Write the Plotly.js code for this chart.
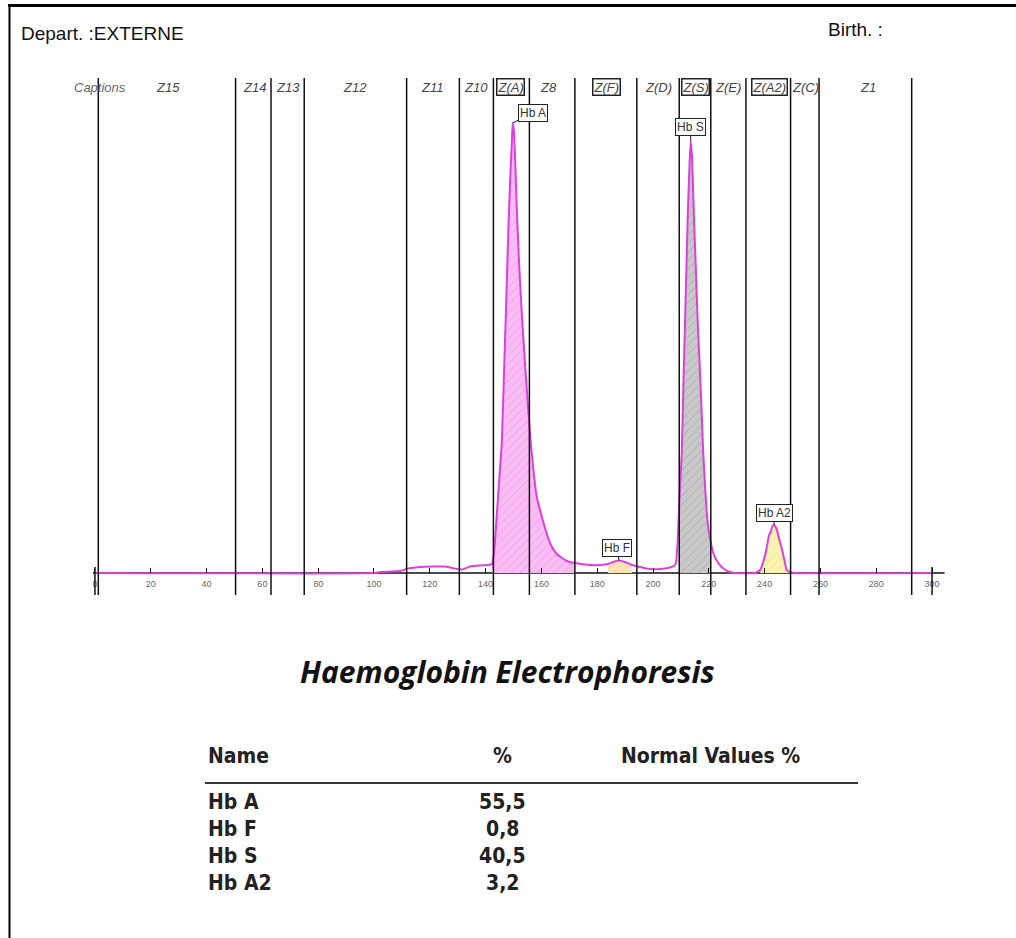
<!DOCTYPE html>
<html>
<head>
<meta charset="utf-8">
<script src="https://cdn.plot.ly/plotly-3.0.1.min.js"></script>
<style>
  html, body { margin: 0; padding: 0; background: #fff; }
  #chart { width: 1016px; height: 938px; }
</style>
</head>
<body>
<div id="chart"></div>
<script>
// ---------------- DATA ----------------
// migration position (x axis) and detector signal
const positions = [0, 100, 102.2, 109.3, 112.2, 116.5, 125.5, 129.0, 131.5, 134.4, 138.0, 140.9,
  142.3, 143.0, 143.7, 144.8, 145.8, 146.6, 147.3, 148.0, 148.4, 148.9, 149.4, 149.7, 150.2,
  151.2, 152.0, 152.9, 154.1, 155.3, 156.2, 157.4, 158.4, 159.5, 161.3, 163.1, 165.2, 167.4,
  169.2, 172.0, 177.4, 181.0, 183.9, 185.7, 187.8, 190.0, 192.5, 195.3, 198.9, 202.5, 205.4,
  207.5, 208.2, 208.8, 209.5, 210.3, 210.9, 211.5, 212.4, 213.1, 213.5, 214.0, 214.7, 215.4,
  216.0, 217.0, 218.0, 218.8, 219.5, 220.4, 221.6, 222.9, 224.6, 227.0, 229.4, 236.6, 238.4,
  239.6, 240.8, 241.6, 242.2, 242.8, 243.4, 244.0, 244.6, 245.3, 246.1, 247.0, 247.9, 249.1,
  250.9, 300];
const signal = [0, 0, 1, 2, 4.5, 6, 6.5, 4.5, 3.5, 6.5, 7.5, 8,
  9, 20, 45, 90, 130, 200, 263, 330, 363, 400, 430, 450, 440,
  363, 310, 263, 210, 163, 130, 96, 75, 63, 45, 30, 20, 15,
  12, 10, 8, 8, 9, 11, 12.5, 11, 8, 6, 4, 4, 5,
  7, 10, 30, 75, 120, 190, 253, 353, 410, 432, 415, 353, 300,
  253, 190, 120, 80, 53, 35, 20, 12, 6, 1.5, 0, 0, 3,
  12, 26, 38, 41, 47, 48, 46, 41, 33, 25, 14, 3, 1,
  0, 0];

// zone boundaries (x positions of vertical lines)
const zoneLines = [1.2, 50.4, 63.1, 75.0, 111.7, 130.6, 142.8, 155.7, 172.0, 194.2, 209.4,
  220.7, 233.3, 249.3, 259.5, 292.7];
// zone captions and their centres
const zoneNames = ['Captions', 'Z15', 'Z14', 'Z13', 'Z12', 'Z11', 'Z10', 'Z(A)', 'Z8', 'Z(F)',
  'Z(D)', 'Z(S)', 'Z(E)', 'Z(A2)', 'Z(C)', 'Z1'];
const zoneCenters = [1.8, 26.2, 57.0, 69.2, 93.2, 120.8, 136.6, 149.1, 162.7, 183.2, 201.8,
  215.4, 226.9, 241.6, 254.5, 277.1];
const boxedZones = ['Z(A)', 'Z(F)', 'Z(S)', 'Z(A2)'];

// identified fractions
const fractionNames = ['Hb A', 'Hb F', 'Hb S', 'Hb A2'];
const fractionFrom = [142.3, 183.9, 209.5, 238.4];
const fractionTo = [172.0, 192.5, 220.4, 249.1];
const fractionPct = ['55,5', '0,8', '40,5', '3,2'];

const xTickStep = 20;

// ---------------- STYLE / LAYOUT ----------------
const W = 1016, H = 938, L = 81, R = 70, T = 70, B = 328;
const plotW = W - L - R, plotH = H - T - B;
const px2x = px => (px - L) / plotW;
const py2y = py => (H - B - py) / plotH;

const fillStyles = {
  'Hb A':  {bg: '#f9bdf4', fg: '#ee9be9'},
  'Hb F':  {bg: '#fde2b6', fg: '#f6cf96'},
  'Hb S':  {bg: '#c8c8c8', fg: '#ababab'},
  'Hb A2': {bg: '#fbf3b3', fg: '#efe190'}
};
const labelOffsets = {
  'Hb A':  {ax: 20, ay: -10},
  'Hb F':  {ax: -2, ay: -13},
  'Hb S':  {ax: 0, ay: -14},
  'Hb A2': {ax: 0, ay: -12}
};
const curveColor = '#dd3fdd';

const traces = [];
const annotations = [];
const shapes = [];

fractionNames.forEach((name, i) => {
  const xs = [], ys = [];
  positions.forEach((p, k) => {
    if (p >= fractionFrom[i] && p <= fractionTo[i]) { xs.push(p); ys.push(signal[k]); }
  });
  const st = fillStyles[name];
  traces.push({
    type: 'scatter', mode: 'lines', x: xs, y: ys, fill: 'tozeroy',
    fillcolor: st.bg,
    fillpattern: {shape: '/', bgcolor: st.bg, fgcolor: st.fg, size: 6, solidity: 0.15},
    line: {width: 0, color: 'rgba(0,0,0,0)', shape: 'spline', smoothing: 0.4},
    hoverinfo: 'skip', showlegend: false
  });
  // peak label
  let mi = 0;
  ys.forEach((v, k) => { if (v > ys[mi]) mi = k; });
  const off = labelOffsets[name];
  annotations.push({
    xref: 'x', yref: 'y', x: xs[mi], y: ys[mi], text: name,
    showarrow: true, arrowhead: 0, arrowwidth: 1, arrowcolor: '#222',
    ax: off.ax, ay: off.ay, standoff: 0,
    bordercolor: '#222', borderwidth: 1, borderpad: 1, bgcolor: '#fff',
    font: {family: 'Liberation Sans, Arial, sans-serif', size: 12, color: '#333'}
  });
});

traces.push({
  type: 'scatter', mode: 'lines', x: positions, y: signal,
  line: {color: curveColor, width: 2, shape: 'spline', smoothing: 0.4},
  hoverinfo: 'skip', showlegend: false
});

// axis base line
shapes.push({type: 'line', xref: 'x', yref: 'y', x0: -0.7, x1: 304.5, y0: 0, y1: 0,
  line: {color: '#111', width: 1.5}, layer: 'below'});
// zone lines
zoneLines.forEach(z => shapes.push({type: 'line', xref: 'x', yref: 'y', x0: z, x1: z,
  y0: -22, y1: 495, line: {color: '#111', width: 1.5}, layer: 'above'}));
// end markers of scale
[0, 300].forEach(z => shapes.push({type: 'line', xref: 'x', yref: 'y', x0: z, x1: z,
  y0: -22, y1: 6, line: {color: '#111', width: 1.5}, layer: 'above'}));

// zone captions
zoneNames.forEach((n, i) => {
  const boxed = boxedZones.includes(n);
  annotations.push({
    xref: 'x', yref: 'y', x: zoneCenters[i], y: 486, text: '<i>' + n + '</i>',
    showarrow: false, xanchor: 'center', yanchor: 'middle',
    bordercolor: boxed ? '#222' : 'rgba(0,0,0,0)', borderwidth: boxed ? 1.5 : 0, borderpad: 0,
    bgcolor: boxed ? '#fff' : 'rgba(0,0,0,0)',
    font: {family: 'Liberation Sans, Arial, sans-serif', size: 13,
      color: n === 'Captions' ? '#666' : '#444'}
  });
});

// page header
const headFont = {family: 'Liberation Sans, Arial, sans-serif', size: 19, color: '#111'};
annotations.push({xref: 'paper', yref: 'paper', x: px2x(19), y: py2y(33), xanchor: 'left',
  yanchor: 'middle', showarrow: false, text: 'Depart. :EXTERNE', font: headFont});
annotations.push({xref: 'paper', yref: 'paper', x: px2x(826), y: py2y(30), xanchor: 'left',
  yanchor: 'middle', showarrow: false, text: 'Birth. :', font: headFont});

// chart title
annotations.push({xref: 'paper', yref: 'paper', x: px2x(507), y: py2y(671), xanchor: 'center',
  yanchor: 'middle', showarrow: false, text: '<b><i>Haemoglobin Electrophoresis</i></b>',
  font: {family: 'Open Sans, sans-serif', size: 30, color: '#111'}});

// results table
const tabFont = {family: 'Liberation Sans Narrow, DejaVu Sans Condensed, Roboto, sans-serif', size: 21, color: '#222'};
const headerY = 756, rowY0 = 802, rowStep = 27;
[['Name', 206, 'left'], ['%', 502, 'center'], ['Normal Values %', 710, 'center']].forEach(h => {
  annotations.push({xref: 'paper', yref: 'paper', x: px2x(h[1]), y: py2y(headerY), xanchor: h[2],
    yanchor: 'middle', showarrow: false, text: '<b>' + h[0] + '</b>', font: tabFont});
});
fractionNames.forEach((n, i) => {
  const y = py2y(rowY0 + i * rowStep);
  annotations.push({xref: 'paper', yref: 'paper', x: px2x(206), y: y, xanchor: 'left',
    yanchor: 'middle', showarrow: false, text: '<b>' + n + '</b>', font: tabFont});
  annotations.push({xref: 'paper', yref: 'paper', x: px2x(502), y: y, xanchor: 'center',
    yanchor: 'middle', showarrow: false, text: '<b>' + fractionPct[i] + '</b>', font: tabFont});
});
shapes.push({type: 'line', xref: 'paper', yref: 'paper', x0: px2x(205), x1: px2x(858),
  y0: py2y(783), y1: py2y(783), line: {color: '#333', width: 2}});

// page frame
shapes.push({type: 'line', xref: 'paper', yref: 'paper', x0: px2x(8), x1: px2x(1016),
  y0: py2y(5.5), y1: py2y(5.5), line: {color: '#000', width: 3}});
shapes.push({type: 'line', xref: 'paper', yref: 'paper', x0: px2x(9.5), x1: px2x(9.5),
  y0: py2y(4), y1: py2y(938), line: {color: '#000', width: 2}});

const layout = {
  width: W, height: H,
  margin: {l: L, r: R, t: T, b: B, pad: 0},
  paper_bgcolor: '#fff', plot_bgcolor: '#fff',
  showlegend: false,
  xaxis: {
    range: [-5, 305], tick0: 0, dtick: xTickStep, anchor: 'free', position: 37 / plotH,
    showgrid: false, zeroline: false, showline: false,
    ticks: 'inside', ticklen: 5, tickwidth: 1, tickcolor: '#111',
    ticklabelstandoff: 4,
    tickfont: {family: 'Liberation Sans, Arial, sans-serif', size: 9, color: '#666'},
    fixedrange: true
  },
  yaxis: {
    range: [-37, 503], visible: false, showgrid: false, zeroline: false, fixedrange: true
  },
  annotations: annotations,
  shapes: shapes
};

Plotly.newPlot('chart', traces, layout, {displayModeBar: false, staticPlot: true});
</script>
</body>
</html>
